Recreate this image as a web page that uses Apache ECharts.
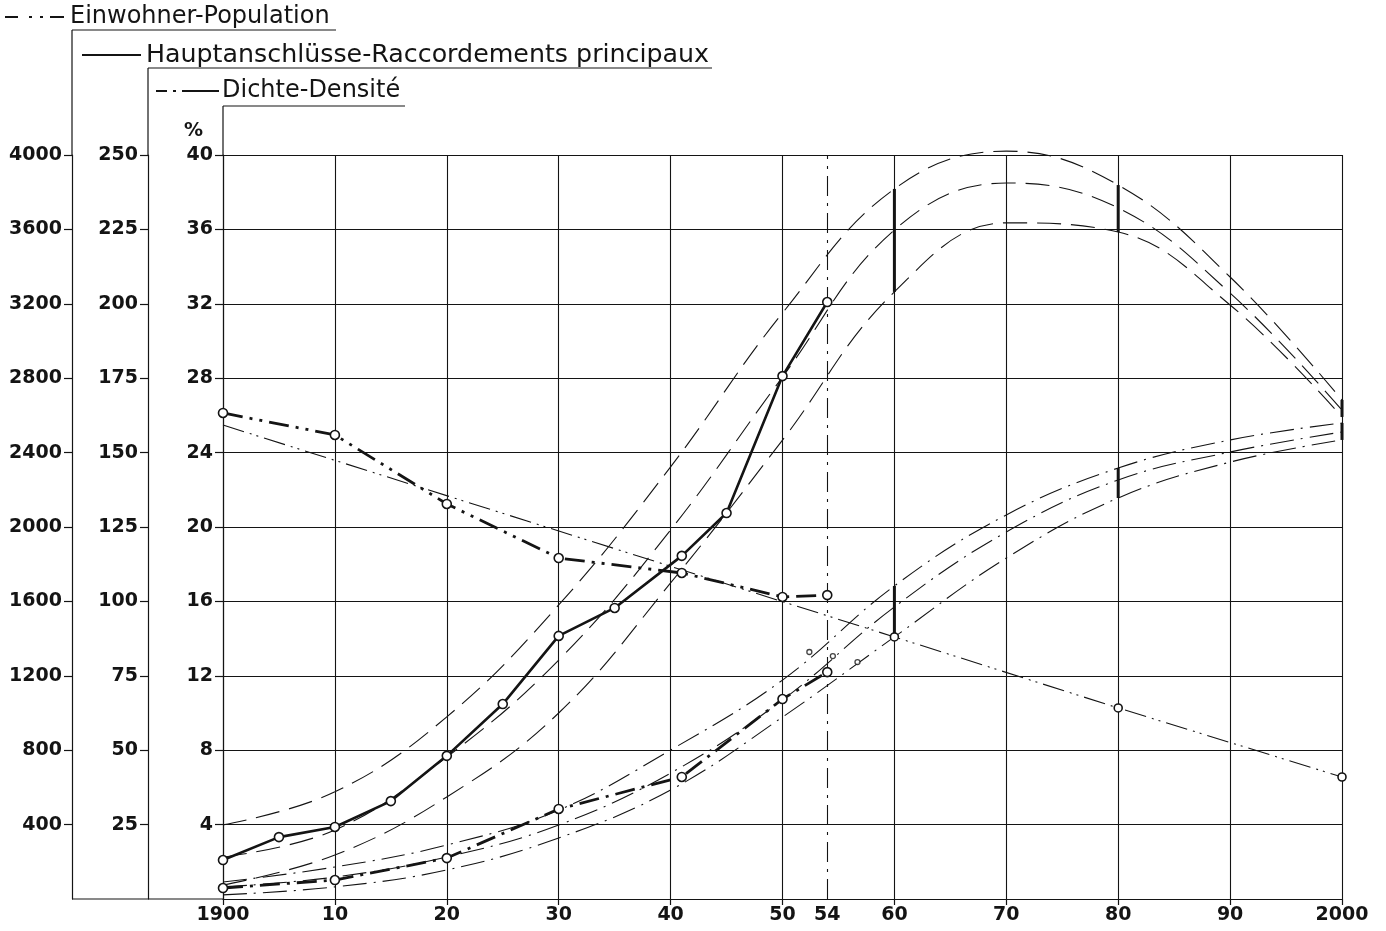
<!DOCTYPE html>
<html>
<head>
<meta charset="utf-8">
<script src="https://cdn.jsdelivr.net/npm/echarts@6/dist/echarts.min.js"></script>
<style>html,body{margin:0;padding:0;background:#fff}#c{width:1386px;height:931px}</style>
</head>
<body>
<div id="c"></div>
<script>
// ---------- data ----------
const xLabelValues = [1900, 1910, 1920, 1930, 1940, 1950, 1954, 1960, 1970, 1980, 1990, 2000];
const xTickValues = [1900, 1910, 1920, 1930, 1940, 1950, 1960, 1970, 1980, 1990, 2000];
const einwohnerTicks = [400, 800, 1200, 1600, 2000, 2400, 2800, 3200, 3600, 4000];
const hauptTicks = [25, 50, 75, 100, 125, 150, 175, 200, 225, 250];
const dichteTicks = [4, 8, 12, 16, 20, 24, 28, 32, 36, 40];

// Einwohner - Population (left axis, 0..4000)
const einwohnerYears = [1900, 1910, 1920, 1930, 1941, 1950, 1954];
const einwohnerValues = [2613, 2495, 2124, 1833, 1753, 1624, 1634];
const einwohnerTrendYears = [1900, 1960, 1980, 2000];
const einwohnerTrendValues = [2548, 1409, 1027, 656];

// Hauptanschlüsse - Raccordements principaux (second axis, 0..250)
const hauptYears = [1900, 1905, 1910, 1915, 1920, 1925, 1930, 1935, 1941, 1945, 1950, 1954];
const hauptValues = [13.1, 20.8, 24.2, 32.9, 48.1, 65.5, 88.4, 97.8, 115.3, 129.7, 175.7, 200.6];

const bandYears = [1900, 1910, 1920, 1930, 1940, 1950, 1960, 1970, 1980, 1990, 2000];
const hauptUpper  = [24.9, 36.0, 61.2, 98.8, 145.2, 196.9, 238.6, 251.3, 239.9, 209.0, 167.7];
const hauptMiddle = [14.1, 23.2, 47.7, 80.3, 124.0, 175.4, 224.8, 240.6, 232.2, 203.6, 164.3];
const hauptLower  = [4.7, 14.8, 34.3, 62.5, 106.2, 154.2, 204.0, 227.2, 224.1, 199.6, 162.0];

// Dichte - Densité (% axis, 0..40)
const dichteYears = [1900, 1910, 1920, 1930, 1941, 1950, 1954];
const dichteValues = [0.59, 1.02, 2.20, 4.84, 6.56, 10.75, 12.2];
const dichteUpper  = [0.91, 1.72, 2.90, 4.78, 8.01, 11.77, 16.83, 20.65, 23.17, 24.68, 25.59];
const dichteMiddle = [0.65, 1.18, 2.26, 3.98, 6.77, 10.70, 15.70, 19.73, 22.53, 24.03, 25.11];
const dichteLower  = [0.22, 0.65, 1.56, 3.28, 5.86, 9.78, 14.09, 18.33, 21.56, 23.49, 24.68];
const dichteMarkYears = [1952.4, 1954.5, 1956.7];
const dichteMarkValues = [13.28, 13.06, 12.74];

const bracketYears = [1960, 1980, 2000];
const markerYear = 1954;

// ---------- chart ----------
const INK = '#141414';
const FONT = 'DejaVu Sans';
const pairs = (xs, ys) => xs.map((x, i) => [x, ys[i]]);

const openSym = {
  symbol: 'circle', symbolSize: 9,
  itemStyle: { color: '#fff', borderColor: INK, borderWidth: 1.6 }
};

function bandLine(name, data, yAxisIndex, dash) {
  return {
    name, type: 'line', yAxisIndex, data: pairs(bandYears, data),
    smooth: 0.4, symbol: 'none', clip: false, silent: true,
    lineStyle: { color: INK, width: 1.1, type: dash }, z: 2
  };
}

const series = [];
const DASH = [24, 10];
const DASHDOT = [24, 7, 2, 7];
const DASHDOTDOT = [22, 6, 2, 5, 2, 6];

series.push(bandLine('Haupt oben', hauptUpper, 1, DASH));
series.push(bandLine('Haupt mitte', hauptMiddle, 1, DASH));
series.push(bandLine('Haupt unten', hauptLower, 1, DASH));
series.push(bandLine('Dichte oben', dichteUpper, 2, DASHDOT));
series.push(bandLine('Dichte mitte', dichteMiddle, 2, DASHDOT));
series.push(bandLine('Dichte unten', dichteLower, 2, DASHDOT));

// brackets (vertical bars between upper and lower projection)
bracketYears.forEach(yr => {
  const i = bandYears.indexOf(yr);
  series.push({
    type: 'line', yAxisIndex: 1, symbol: 'none', clip: false, silent: true,
    data: [[yr, hauptLower[i]], [yr, hauptUpper[i]]],
    lineStyle: { color: INK, width: 3 }, z: 3
  });
  series.push({
    type: 'line', yAxisIndex: 2, symbol: 'none', clip: false, silent: true,
    data: [[yr, dichteLower[i]], [yr, dichteUpper[i]]],
    lineStyle: { color: INK, width: 3 }, z: 3
  });
});

// Einwohner trend (thin dash-dot-dot)
series.push({
  name: 'Einwohner Trend', type: 'line', yAxisIndex: 0,
  data: einwohnerTrendYears.map((y, i) => i === 0
    ? { value: [y, einwohnerTrendValues[i]], symbol: 'none' }
    : { value: [y, einwohnerTrendValues[i]] }),
  ...openSym, symbolSize: 8,
  lineStyle: { color: INK, width: 1.1, type: DASHDOTDOT }, z: 4
});

// observed
series.push({
  name: 'Einwohner', type: 'line', yAxisIndex: 0,
  data: pairs(einwohnerYears, einwohnerValues), ...openSym,
  lineStyle: { color: INK, width: 2.8, type: [20, 7, 3, 7, 3, 7] }, z: 5
});
series.push({
  name: 'Hauptanschlüsse', type: 'line', yAxisIndex: 1,
  data: pairs(hauptYears, hauptValues), ...openSym,
  lineStyle: { color: INK, width: 2.6 }, z: 5
});
series.push({
  name: 'Dichte', type: 'line', yAxisIndex: 2,
  data: pairs(dichteYears, dichteValues), ...openSym,
  lineStyle: { color: INK, width: 2.8, type: [20, 7, 3, 7] }, z: 5,
  markLine: {
    silent: true, symbol: 'none', label: { show: false },
    lineStyle: { color: INK, width: 1.1, type: [20, 7, 3, 7] },
    data: [{ xAxis: markerYear }]
  }
});
series.push({
  name: 'Dichte Zwischenwerte', type: 'scatter', yAxisIndex: 2,
  data: pairs(dichteMarkYears, dichteMarkValues),
  symbol: 'circle', symbolSize: 5,
  itemStyle: { color: '#fff', borderColor: INK, borderWidth: 1.3 }, z: 5
});

function yAx(min, max, interval, offset, ticks, extra) {
  return Object.assign({
    type: 'value', position: 'left', offset, min, max, interval,
    axisLine: { show: true, onZero: false, lineStyle: { color: INK, width: 1.2 } },
    axisTick: { show: true, length: 8, customValues: ticks, lineStyle: { color: INK, width: 1.2 } },
    axisLabel: { color: INK, fontFamily: FONT, fontSize: 19, fontWeight: 'bold', margin: 10,
      customValues: ticks, formatter: v => String(v) },
    splitLine: { show: false }
  }, extra || {});
}

const line = (x1, y1, x2, y2, w, dash) => ({
  type: 'line', silent: true,
  shape: { x1, y1, x2, y2 },
  style: { stroke: INK, lineWidth: w || 1.2, lineDash: dash || null }
});
const text = (x, y, t, size) => ({
  type: 'text', x, y, silent: true,
  style: { text: t, fill: INK, font: (size || 24) + 'px "DejaVu Sans"', textVerticalAlign: 'middle', textAlign: 'left' }
});

const option = {
  backgroundColor: '#fff',
  animation: false,
  grid: { left: 223, right: 44, top: 155, bottom: 32, containLabel: false },
  xAxis: {
    type: 'value', min: 1900, max: 2000, interval: 10,
    axisLine: { show: true, onZero: false, lineStyle: { color: INK, width: 1.2 } },
    axisTick: { show: true, length: 6, customValues: xTickValues, lineStyle: { color: INK, width: 1.2 } },
    axisLabel: {
      color: INK, fontFamily: FONT, fontSize: 19, fontWeight: 'bold', margin: 7,
      customValues: xLabelValues,
      formatter: v => (v === 1900 || v === 2000) ? String(v) : String(v % 100)
    },
    splitLine: { show: true, lineStyle: { color: INK, width: 1.1 } }
  },
  yAxis: [
    yAx(0, 4000, 400, 151, einwohnerTicks),
    yAx(0, 250, 25, 75, hauptTicks),
    yAx(0, 40, 4, 0, dichteTicks, {
      name: '%', nameLocation: 'end', nameGap: 14,
      nameTextStyle: { color: INK, fontFamily: FONT, fontSize: 19, fontWeight: 'bold', align: 'right', padding: [0, 20, 0, 0] },
      splitLine: { show: true, lineStyle: { color: INK, width: 1.1 } }
    })
  ],
  graphic: [
    // header row 1: Einwohner
    line(5, 17, 64, 17, 2.2, [13, 11, 3, 8, 3, 7, 16]),
    text(70, 17, 'Einwohner-Population', 24),
    line(72, 30, 336, 30, 1.2),
    line(72, 30, 72, 155, 1.2),
    // header row 2: Hauptanschlüsse
    line(82, 55, 141, 55, 2.2),
    text(146, 55, 'Hauptanschlüsse-Raccordements principaux', 25.3),
    line(148, 68, 712, 68, 1.2),
    line(148, 68, 148, 155, 1.2),
    // header row 3: Dichte
    line(156, 91, 219, 91, 2.2, [11, 6, 3, 6, 40]),
    text(222, 91, 'Dichte-Densité', 24),
    line(223, 106, 405, 106, 1.2),
    line(223, 106, 223, 155, 1.2),
    // bottom baseline extension
    line(72, 899, 223, 899, 1.2)
  ],
  series
};
const chart = echarts.init(document.getElementById('c'));
chart.setOption(option);
</script>
</body>
</html>
